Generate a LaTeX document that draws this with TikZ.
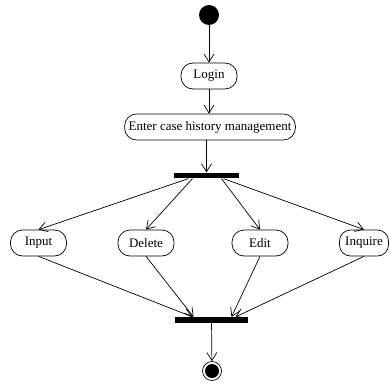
\documentclass[tikz,border=0pt]{standalone}
\usepackage{fontspec}
\setmainfont{Liberation Serif}
\usetikzlibrary{arrows.meta}

\begin{document}
\begin{tikzpicture}[x=1pt,y=-1pt,line width=0.7pt,
    act/.style={draw, rounded corners=12pt, minimum width=56pt, minimum height=26pt,
        inner xsep=4pt, font=\fontsize{13}{15}\selectfont},
    bar/.style={fill=black, inner sep=0pt, minimum height=5.5pt},
    arr/.style={-{Straight Barb[length=8pt,width=10pt]}}]
    \useasboundingbox (0,0) rectangle (390,385);
    \node[circle, fill=black, inner sep=0pt, minimum size=20pt] (start) at (209,15) {};
    \node[act] (login) at (209,76) {Login};
    \node[act] (enter) at (210,127) {Enter case history management};
    \node[bar, minimum width=65pt] (fork) at (206.5,175.5) {};
    \node[act] (input) at (38.5,243) {Input};
    \node[act] (delete) at (146,243) {Delete};
    \node[act] (edit) at (260,243) {Edit};
    \node[act, minimum width=49pt, rounded corners=11pt] (inquire) at (364,243) {Inquire};
    \node[bar, minimum width=73pt] (join) at (211.5,320) {};
    \node[circle, draw, inner sep=0pt, minimum size=19pt] (stop) at (212,371) {};
    \fill (stop) circle (7pt);
    \draw[arr] (start) -- (login);
    \draw[arr] (login) -- (login |- enter.north);
    \draw[arr] (enter.south -| fork) -- (fork);
    \draw[arr] ([xshift=-18pt]fork.south) -- (input.north);
    \draw[arr] ([xshift=-14pt]fork.south) -- (delete.north);
    \draw[arr] ([xshift=15pt]fork.south) -- (edit.north);
    \draw[arr] ([xshift=17pt]fork.south) -- (inquire.north);
    \draw[arr] (input.south) -- ([xshift=-19pt]join.north);
    \draw[arr] (delete.south) -- ([xshift=-18pt]join.north);
    \draw[arr] (edit.south) -- ([xshift=20pt]join.north);
    \draw[arr] (inquire.south) -- ([xshift=24pt]join.north);
    \draw[arr] (join) -- (stop);
\end{tikzpicture}
\end{document}
